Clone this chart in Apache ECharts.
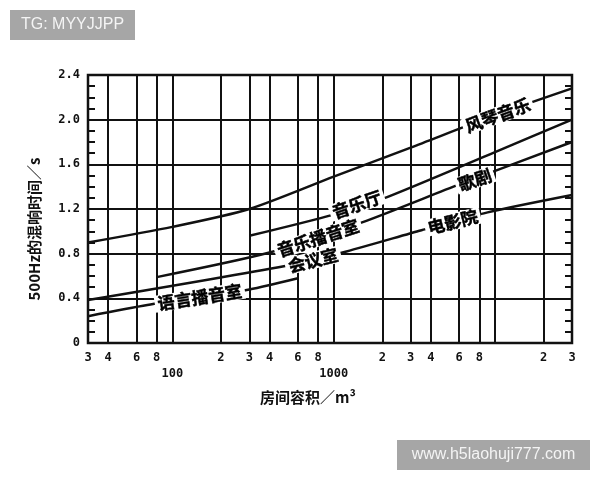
<!DOCTYPE html>
<html><head><meta charset="utf-8">
<script src="https://cdn.jsdelivr.net/npm/echarts@6/dist/echarts.min.js"></script>
<style>html,body{margin:0;padding:0;background:#fff}#c{width:600px;height:480px}</style>
</head><body><div id="c"></div>
<script>
// Curves: room volume (m³) vs reverberation time at 500Hz (s)
const organV = [30, 100, 300, 1000, 3000, 10000, 30000];
const organT = [0.90, 1.04, 1.20, 1.49, 1.75, 2.04, 2.28];
const hallV = [300, 1000, 2000, 10000, 30000];
const hallT = [0.96, 1.15, 1.29, 1.71, 2.00];
const studioV = [80, 400, 1500, 6000, 30000];
const studioT = [0.59, 0.81, 1.08, 1.42, 1.80];
const meetingV = [30, 500, 1200, 3500, 9000, 30000];
const meetingT = [0.385, 0.69, 0.82, 1.01, 1.17, 1.325];
const speechV = [30, 70, 300, 600];
const speechT = [0.24, 0.34, 0.48, 0.58];

// Curve labels (anchored on the curves)
const labelNames = ['风琴音乐', '音乐厅', '音乐播音室', '歌剧', '会议室', '电影院', '语言播音室'];
const labelV = [10400, 1394, 800, 7500, 745, 5470, 148];
const labelT = [2.04, 1.24, 0.94, 1.46, 0.74, 1.085, 0.41];
const labelAngle = [20, 19, 18, 19, 14, 14, 9];

// Axis ticks
const gridX = [40, 60, 80, 100, 200, 300, 400, 600, 800, 1000, 2000, 3000, 4000, 6000, 8000, 10000, 20000];
const xTickVals = [30, 40, 60, 80, 100, 200, 300, 400, 600, 800, 1000, 2000, 3000, 4000, 6000, 8000, 20000, 30000];
const xTickText = ['3', '4', '6', '8', '\n100', '2', '3', '4', '6', '8', '\n1000', '2', '3', '4', '6', '8', '2', '3'];
const yTicks = ['0', '0.4', '0.8', '1.2', '1.6', '2.0', '2.4'];

const INK = '#111';
const monoFont = 'DejaVu Sans Mono';
const cjkFont = 'Noto Sans CJK SC';

function curve(name, V, T) {
  return {
    type: 'line', name, xAxisIndex: 0, yAxisIndex: 0,
    data: V.map((v, i) => [v, T[i]]),
    showSymbol: false, symbol: 'none', smooth: 0.25, silent: true, z: 3,
    lineStyle: { color: INK, width: 2.5 }
  };
}

const series = [
  curve('风琴音乐', organV, organT),
  curve('音乐厅', hallV, hallT),
  curve('音乐播音室/歌剧', studioV, studioT),
  curve('会议室/电影院', meetingV, meetingT),
  curve('语言播音室', speechV, speechT)
];
series[0].markLine = {
  silent: true, symbol: ['none', 'none'], label: { show: false }, z: 2,
  lineStyle: { type: 'solid', color: INK, width: 2 },
  data: gridX.map(v => ({ xAxis: v }))
};
series.push({
  type: 'scatter', xAxisIndex: 0, yAxisIndex: 0, symbolSize: 1, silent: true, z: 10,
  itemStyle: { color: 'rgba(0,0,0,0)', opacity: 1 },
  data: labelNames.map((n, i) => ({ name: n, value: [labelV[i], labelT[i]], label: { rotate: labelAngle[i] } })),
  label: {
    show: true, position: 'inside', formatter: '{b}', color: '#000', opacity: 1,
    fontSize: 17, fontWeight: 'bold', fontFamily: cjkFont,
    textBorderColor: '#000', textBorderWidth: 0.5,
    backgroundColor: '#fff', padding: [0, 3]
  }
});

const yAxisBase = {
  type: 'value', min: 0, max: 2.4, interval: 0.4,
  axisLine: { show: false },
  axisTick: { show: true, inside: true, length: 7, lineStyle: { color: INK, width: 2 } },
  minorTick: { show: true, splitNumber: 4, length: 7, lineStyle: { color: INK, width: 2 } },
  splitLine: { show: true, lineStyle: { color: INK, width: 2 } }
};

const chart = echarts.init(document.getElementById('c'), null, { renderer: 'canvas' });
chart.setOption({
  animation: false,
  backgroundColor: '#fff',
  grid: { left: 88, right: 28, top: 75, bottom: 137, show: true, borderColor: INK, borderWidth: 2.5, backgroundColor: 'transparent' },
  xAxis: [
    { type: 'log', logBase: 10, min: 30, max: 30000, axisLine: { show: false }, axisTick: { show: false }, axisLabel: { show: false }, splitLine: { show: false } },
    {
      type: 'value', position: 'bottom', min: Math.log10(30), max: Math.log10(30000),
      axisLine: { show: false }, axisTick: { show: false }, splitLine: { show: false },
      axisLabel: {
        customValues: xTickVals.map(v => Math.log10(v)),
        formatter: v => { const i = xTickVals.findIndex(t => Math.abs(Math.log10(t) - v) < 1e-6); return i >= 0 ? xTickText[i] : ''; },
        fontFamily: monoFont, fontSize: 12, fontWeight: 'bold', color: INK, margin: 7, lineHeight: 16
      },
      name: '房间容积／m³', nameLocation: 'middle', nameGap: 47,
      nameTextStyle: { fontFamily: cjkFont, fontSize: 15, fontWeight: 'bold', color: INK, padding: [0, 44, 0, 0] }
    }
  ],
  yAxis: [
    Object.assign({}, yAxisBase, {
      position: 'left',
      axisLabel: { formatter: v => yTicks[Math.round(v / 0.4)], fontFamily: monoFont, fontSize: 12, fontWeight: 'bold', color: INK, margin: 8 },
      name: '500Hz的混响时间／s', nameLocation: 'middle', nameGap: 46,
      nameTextStyle: { fontFamily: cjkFont, fontSize: 15, fontWeight: 'bold', color: INK, padding: [0, 40, 0, 0] }
    }),
    Object.assign({}, yAxisBase, { position: 'right', axisLabel: { show: false }, splitLine: { show: false } })
  ],
  graphic: [
    { type: 'rect', shape: { x: 10, y: 10, width: 125, height: 30 }, style: { fill: '#a6a6a6' }, z: 100 },
    { type: 'text', x: 72.5, y: 25, z: 101, style: { text: 'TG: MYYJJPP', fill: '#f4f4f4', font: '16px "Liberation Sans"', align: 'center', verticalAlign: 'middle' } },
    { type: 'rect', shape: { x: 397, y: 440, width: 193, height: 30 }, style: { fill: '#a6a6a6' }, z: 100 },
    { type: 'text', x: 493.5, y: 455, z: 101, style: { text: 'www.h5laohuji777.com', fill: '#f4f4f4', font: '16px "Liberation Sans"', align: 'center', verticalAlign: 'middle' } }
  ],
  series
});
</script>
</body></html>
